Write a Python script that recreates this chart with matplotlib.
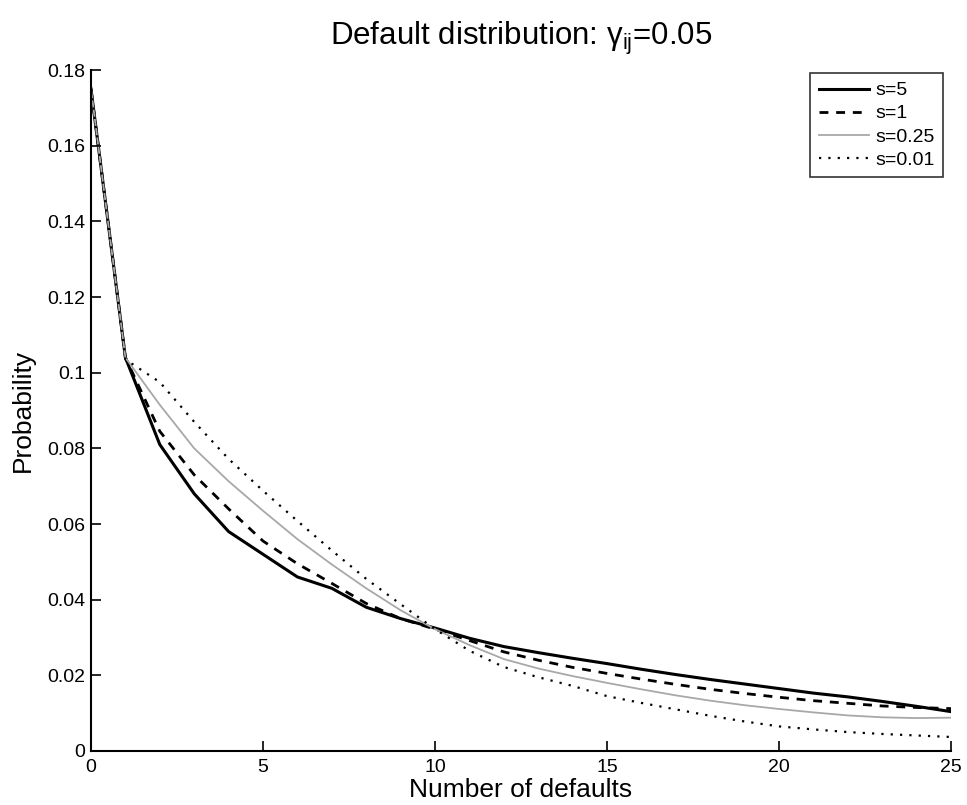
import matplotlib
matplotlib.use("Agg")
import matplotlib.pyplot as plt

plt.rcParams['font.family'] = ['Liberation Sans', 'DejaVu Sans']
plt.rcParams['mathtext.fontset'] = 'custom'
plt.rcParams['mathtext.rm'] = 'Liberation Sans'
plt.rcParams['mathtext.it'] = 'Liberation Sans:italic'

# number of defaults
defaults = list(range(26))

# probabilities, one list per s value
prob_s5 = [0.175, 0.104, 0.081, 0.068, 0.058, 0.052, 0.046, 0.043, 0.038, 0.035,
           0.0325, 0.0298, 0.0276, 0.0260, 0.0245, 0.0231, 0.0216, 0.0202, 0.0189,
           0.0177, 0.0165, 0.0153, 0.0143, 0.0131, 0.0118, 0.0104]
prob_s1 = [0.175, 0.104, 0.0845, 0.073, 0.064, 0.0555, 0.0495, 0.0443, 0.039, 0.035,
           0.0322, 0.0292, 0.0262, 0.0240, 0.0221, 0.0205, 0.0190, 0.0176, 0.0163,
           0.0152, 0.0142, 0.0133, 0.0126, 0.0119, 0.0115, 0.0112]
prob_s025 = [0.175, 0.104, 0.0915, 0.080, 0.0713, 0.0635, 0.0560, 0.0493, 0.0430, 0.0372,
             0.0322, 0.0280, 0.0243, 0.0218, 0.0198, 0.0180, 0.0163, 0.0147, 0.0133,
             0.0121, 0.0111, 0.0102, 0.0094, 0.0089, 0.0087, 0.0088]
prob_s001 = [0.175, 0.1035, 0.0975, 0.087, 0.0772, 0.0688, 0.0608, 0.0530, 0.0455, 0.0388,
             0.0322, 0.0265, 0.0222, 0.0195, 0.0172, 0.0145, 0.0127, 0.0110, 0.0093,
             0.0078, 0.0065, 0.0057, 0.0050, 0.0045, 0.0041, 0.0037]

labels = ['s=5', 's=1', 's=0.25', 's=0.01']
x_ticks = [0, 5, 10, 15, 20, 25]
y_ticks = [0, 0.02, 0.04, 0.06, 0.08, 0.1, 0.12, 0.14, 0.16, 0.18]
y_tick_labels = ['0', '0.02', '0.04', '0.06', '0.08', '0.1', '0.12', '0.14', '0.16', '0.18']

fig = plt.figure(figsize=(9.67, 8.05), dpi=100)
ax = fig.add_axes([0.0941, 0.0671, 0.8894, 0.8459])

ax.plot(defaults, prob_s5, color='black', lw=2.2, ls='-', label=labels[0])
ax.plot(defaults, prob_s1, color='black', lw=2.0, ls=(0, (3.2, 2.8)), label=labels[1])
ax.plot(defaults, prob_s025, color='#a8a8a8', lw=1.3, ls='-', label=labels[2])
ax.plot(defaults, prob_s001, color='black', lw=1.6, ls=(0, (1, 3.2)), label=labels[3])

ax.set_xlim(0, 25)
ax.set_ylim(0, 0.18)
ax.set_xticks(x_ticks)
ax.set_xticklabels([str(t) for t in x_ticks])
ax.set_yticks(y_ticks)
ax.set_yticklabels(y_tick_labels)
ax.tick_params(direction='in', length=7, width=1.2, labelsize=14)
ax.tick_params(axis='x', pad=6)
ax.tick_params(axis='y', pad=4)

for side in ['top', 'right']:
    ax.spines[side].set_visible(False)
for side in ['left', 'bottom']:
    ax.spines[side].set_linewidth(1.5)

ax.set_xlabel('Number of defaults', fontsize=19, labelpad=1)
ax.set_ylabel('Probability', fontsize=19, labelpad=9)
ax.set_title('Default distribution: γ$_{\\mathrm{ij}}$=0.05', fontsize=22.5, pad=18)

leg = ax.legend(loc='upper right', bbox_to_anchor=(0.9907, 0.9956), borderaxespad=0,
                fontsize=14, frameon=True, fancybox=False, handlelength=2.6,
                handletextpad=0.3, labelspacing=0.28, borderpad=0.45)
leg.get_frame().set_edgecolor('black')
leg.get_frame().set_linewidth(1.2)

fig.savefig('out.png', dpi=100)
